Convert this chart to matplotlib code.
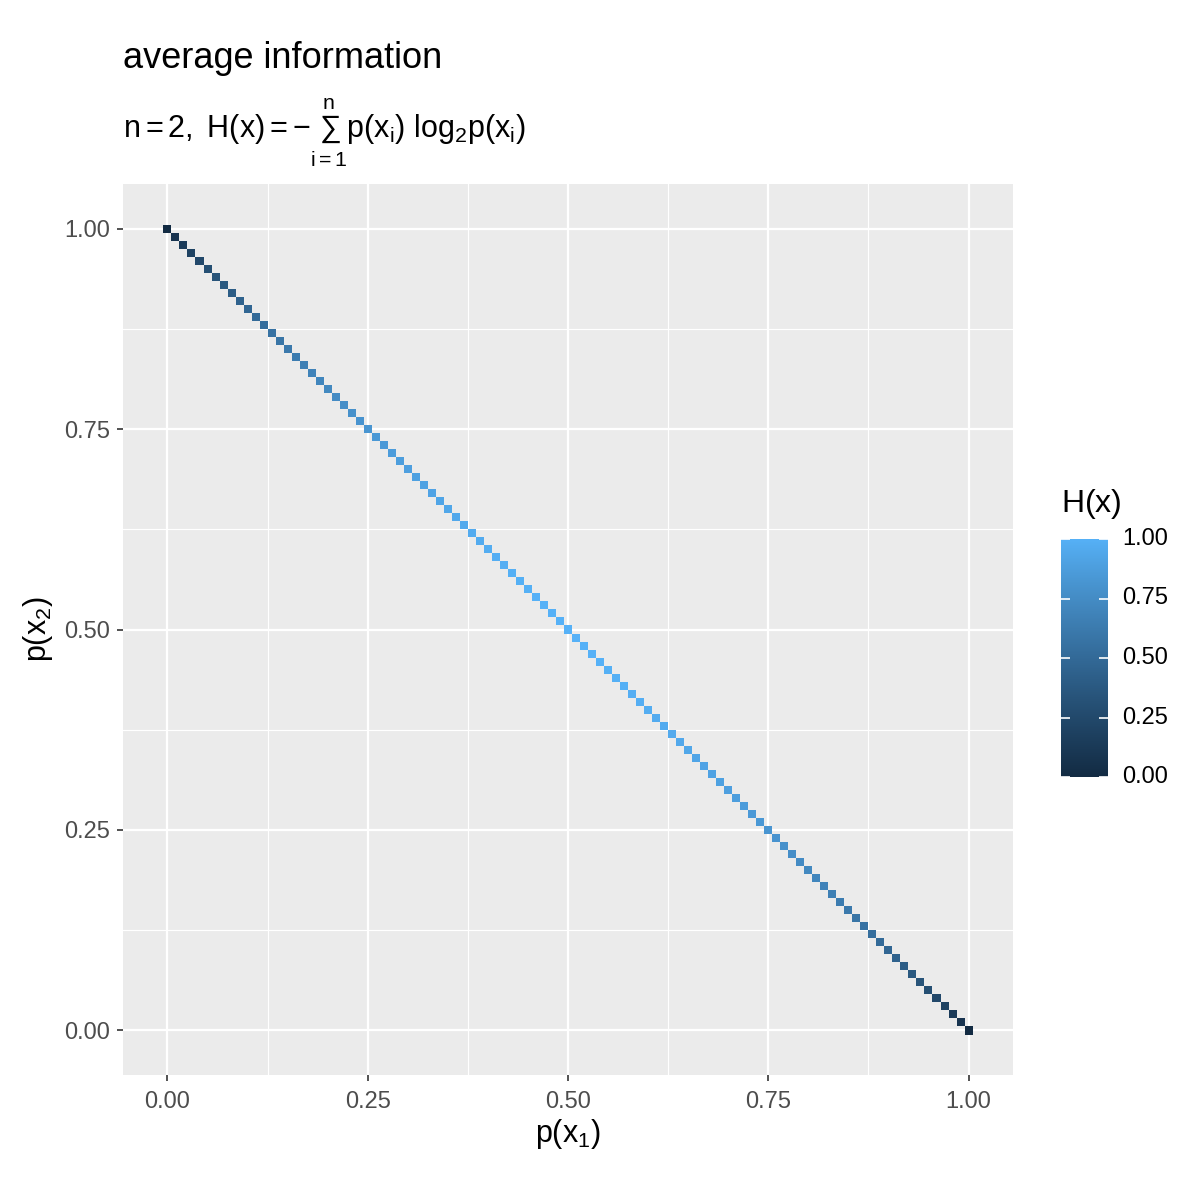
import numpy as np
import matplotlib
matplotlib.use("Agg")
import matplotlib.pyplot as plt
from matplotlib.colors import LinearSegmentedColormap, Normalize
from matplotlib.patches import Rectangle

plt.rcParams['font.family'] = ['Liberation Sans', 'DejaVu Sans']
plt.rcParams['mathtext.fontset'] = 'custom'
plt.rcParams['mathtext.rm'] = 'Liberation Sans'
plt.rcParams['mathtext.it'] = 'Liberation Sans'
plt.rcParams['mathtext.bf'] = 'Liberation Sans:bold'

p1 = [0.00, 0.01, 0.02, 0.03, 0.04, 0.05, 0.06, 0.07, 0.08, 0.09,
      0.10, 0.11, 0.12, 0.13, 0.14, 0.15, 0.16, 0.17, 0.18, 0.19,
      0.20, 0.21, 0.22, 0.23, 0.24, 0.25, 0.26, 0.27, 0.28, 0.29,
      0.30, 0.31, 0.32, 0.33, 0.34, 0.35, 0.36, 0.37, 0.38, 0.39,
      0.40, 0.41, 0.42, 0.43, 0.44, 0.45, 0.46, 0.47, 0.48, 0.49,
      0.50, 0.51, 0.52, 0.53, 0.54, 0.55, 0.56, 0.57, 0.58, 0.59,
      0.60, 0.61, 0.62, 0.63, 0.64, 0.65, 0.66, 0.67, 0.68, 0.69,
      0.70, 0.71, 0.72, 0.73, 0.74, 0.75, 0.76, 0.77, 0.78, 0.79,
      0.80, 0.81, 0.82, 0.83, 0.84, 0.85, 0.86, 0.87, 0.88, 0.89,
      0.90, 0.91, 0.92, 0.93, 0.94, 0.95, 0.96, 0.97, 0.98, 0.99, 1.00]
p2 = [1.00, 0.99, 0.98, 0.97, 0.96, 0.95, 0.94, 0.93, 0.92, 0.91,
      0.90, 0.89, 0.88, 0.87, 0.86, 0.85, 0.84, 0.83, 0.82, 0.81,
      0.80, 0.79, 0.78, 0.77, 0.76, 0.75, 0.74, 0.73, 0.72, 0.71,
      0.70, 0.69, 0.68, 0.67, 0.66, 0.65, 0.64, 0.63, 0.62, 0.61,
      0.60, 0.59, 0.58, 0.57, 0.56, 0.55, 0.54, 0.53, 0.52, 0.51,
      0.50, 0.49, 0.48, 0.47, 0.46, 0.45, 0.44, 0.43, 0.42, 0.41,
      0.40, 0.39, 0.38, 0.37, 0.36, 0.35, 0.34, 0.33, 0.32, 0.31,
      0.30, 0.29, 0.28, 0.27, 0.26, 0.25, 0.24, 0.23, 0.22, 0.21,
      0.20, 0.19, 0.18, 0.17, 0.16, 0.15, 0.14, 0.13, 0.12, 0.11,
      0.10, 0.09, 0.08, 0.07, 0.06, 0.05, 0.04, 0.03, 0.02, 0.01, 0.00]
H = [0.00, 0.08, 0.14, 0.19, 0.24, 0.29, 0.33, 0.37, 0.40, 0.44,
     0.47, 0.50, 0.53, 0.56, 0.58, 0.61, 0.63, 0.66, 0.68, 0.70,
     0.72, 0.74, 0.76, 0.78, 0.80, 0.81, 0.83, 0.84, 0.86, 0.87,
     0.88, 0.89, 0.90, 0.91, 0.92, 0.93, 0.94, 0.95, 0.96, 0.96,
     0.97, 0.98, 0.98, 0.99, 0.99, 0.99, 1.00, 1.00, 1.00, 1.00,
     1.00, 1.00, 1.00, 1.00, 1.00, 0.99, 0.99, 0.99, 0.98, 0.98,
     0.97, 0.96, 0.96, 0.95, 0.94, 0.93, 0.92, 0.91, 0.90, 0.89,
     0.88, 0.87, 0.86, 0.84, 0.83, 0.81, 0.80, 0.78, 0.76, 0.74,
     0.72, 0.70, 0.68, 0.66, 0.63, 0.61, 0.58, 0.56, 0.53, 0.50,
     0.47, 0.44, 0.40, 0.37, 0.33, 0.29, 0.24, 0.19, 0.14, 0.08, 0.00]
ticks = [0.00, 0.25, 0.50, 0.75, 1.00]
tick_labels = ["0.00", "0.25", "0.50", "0.75", "1.00"]
minor_ticks = [0.125, 0.375, 0.625, 0.875]

# ggplot default continuous gradient (#132B43 -> #56B1F7)
cmap = LinearSegmentedColormap.from_list(
    "gg", ["#132B43", "#1D3F5E", "#28547A", "#336A98", "#3F81B6", "#4A98D5", "#56B1F7"])
norm = Normalize(0, 1)

fig = plt.figure(figsize=(12, 12), dpi=100)
ax = fig.add_axes([123 / 1200, 1 - 1075 / 1200, 890 / 1200, 891 / 1200])
ax.set_facecolor("#EBEBEB")

w = 0.01
for x, y, h in zip(p1, p2, H):
    ax.add_patch(Rectangle((x - w / 2, y - w / 2), w, w, facecolor=cmap(norm(h)),
                           edgecolor="none", zorder=3))

lo, hi = -0.005 - 0.0505, 1.005 + 0.0505
ax.set_xlim(lo, hi)
ax.set_ylim(lo, hi)
ax.set_xticks(ticks)
ax.set_xticklabels(tick_labels)
ax.set_yticks(ticks)
ax.set_yticklabels(tick_labels)
ax.set_xticks(minor_ticks, minor=True)
ax.set_yticks(minor_ticks, minor=True)
ax.grid(which="major", color="white", linewidth=1.6, zorder=1)
ax.grid(which="minor", color="white", linewidth=0.8, zorder=1)
ax.set_axisbelow(True)
for s in ax.spines.values():
    s.set_visible(False)
ax.tick_params(which="major", length=4.5, width=1.2, color="#333333",
               labelsize=17, labelcolor="#4D4D4D")
ax.tick_params(axis="x", which="major", pad=7)
ax.tick_params(axis="y", which="major", pad=5)
ax.tick_params(which="minor", length=0)

ax.set_xlabel(r"$\mathrm{p}(\mathrm{x}_1)$", fontsize=22, labelpad=3)
ax.set_ylabel(r"$\mathrm{p}(\mathrm{x}_2)$", fontsize=22, labelpad=6)

fig.text(123 / 1200, 1 - 68 / 1200, "average information", fontsize=26, ha="left",
         va="baseline")
fig.text(123 / 1200, 1 - 138 / 1200,
         r"$\mathrm{n} = 2,\ \mathrm{H}(\mathrm{x}) = -\sum_{\mathrm{i}=1}^{\mathrm{n}}"
         r"\mathrm{p}(\mathrm{x_i})\ \mathrm{log_2p}(\mathrm{x_i})$",
         fontsize=22, ha="left", va="baseline")

# colour bar
cax = fig.add_axes([1061 / 1200, 1 - 777 / 1200, 47 / 1200, 238 / 1200])
grad = np.linspace(0, 1, 256).reshape(-1, 1)
cax.imshow(grad, aspect="auto", cmap=cmap, origin="lower", extent=[0, 1, 0, 1])
cax.set_xlim(0, 1)
cax.set_ylim(0, 1)
cax.set_xticks([])
cax.set_yticks([])
for s in cax.spines.values():
    s.set_visible(False)
for t, lab in zip(ticks, tick_labels):
    cax.plot([0, 0.2], [t, t], color="white", lw=1.2, solid_capstyle="butt")
    cax.plot([0.8, 1], [t, t], color="white", lw=1.2, solid_capstyle="butt")
    cax.text(1.3, t, lab, fontsize=17, va="center", ha="left", color="black",
             transform=cax.transAxes)
fig.text(1061 / 1200, 1 - 512 / 1200, r"$\mathrm{H}(\mathrm{x})$", fontsize=23,
         ha="left", va="baseline")

fig.savefig("out.png", dpi=100)
